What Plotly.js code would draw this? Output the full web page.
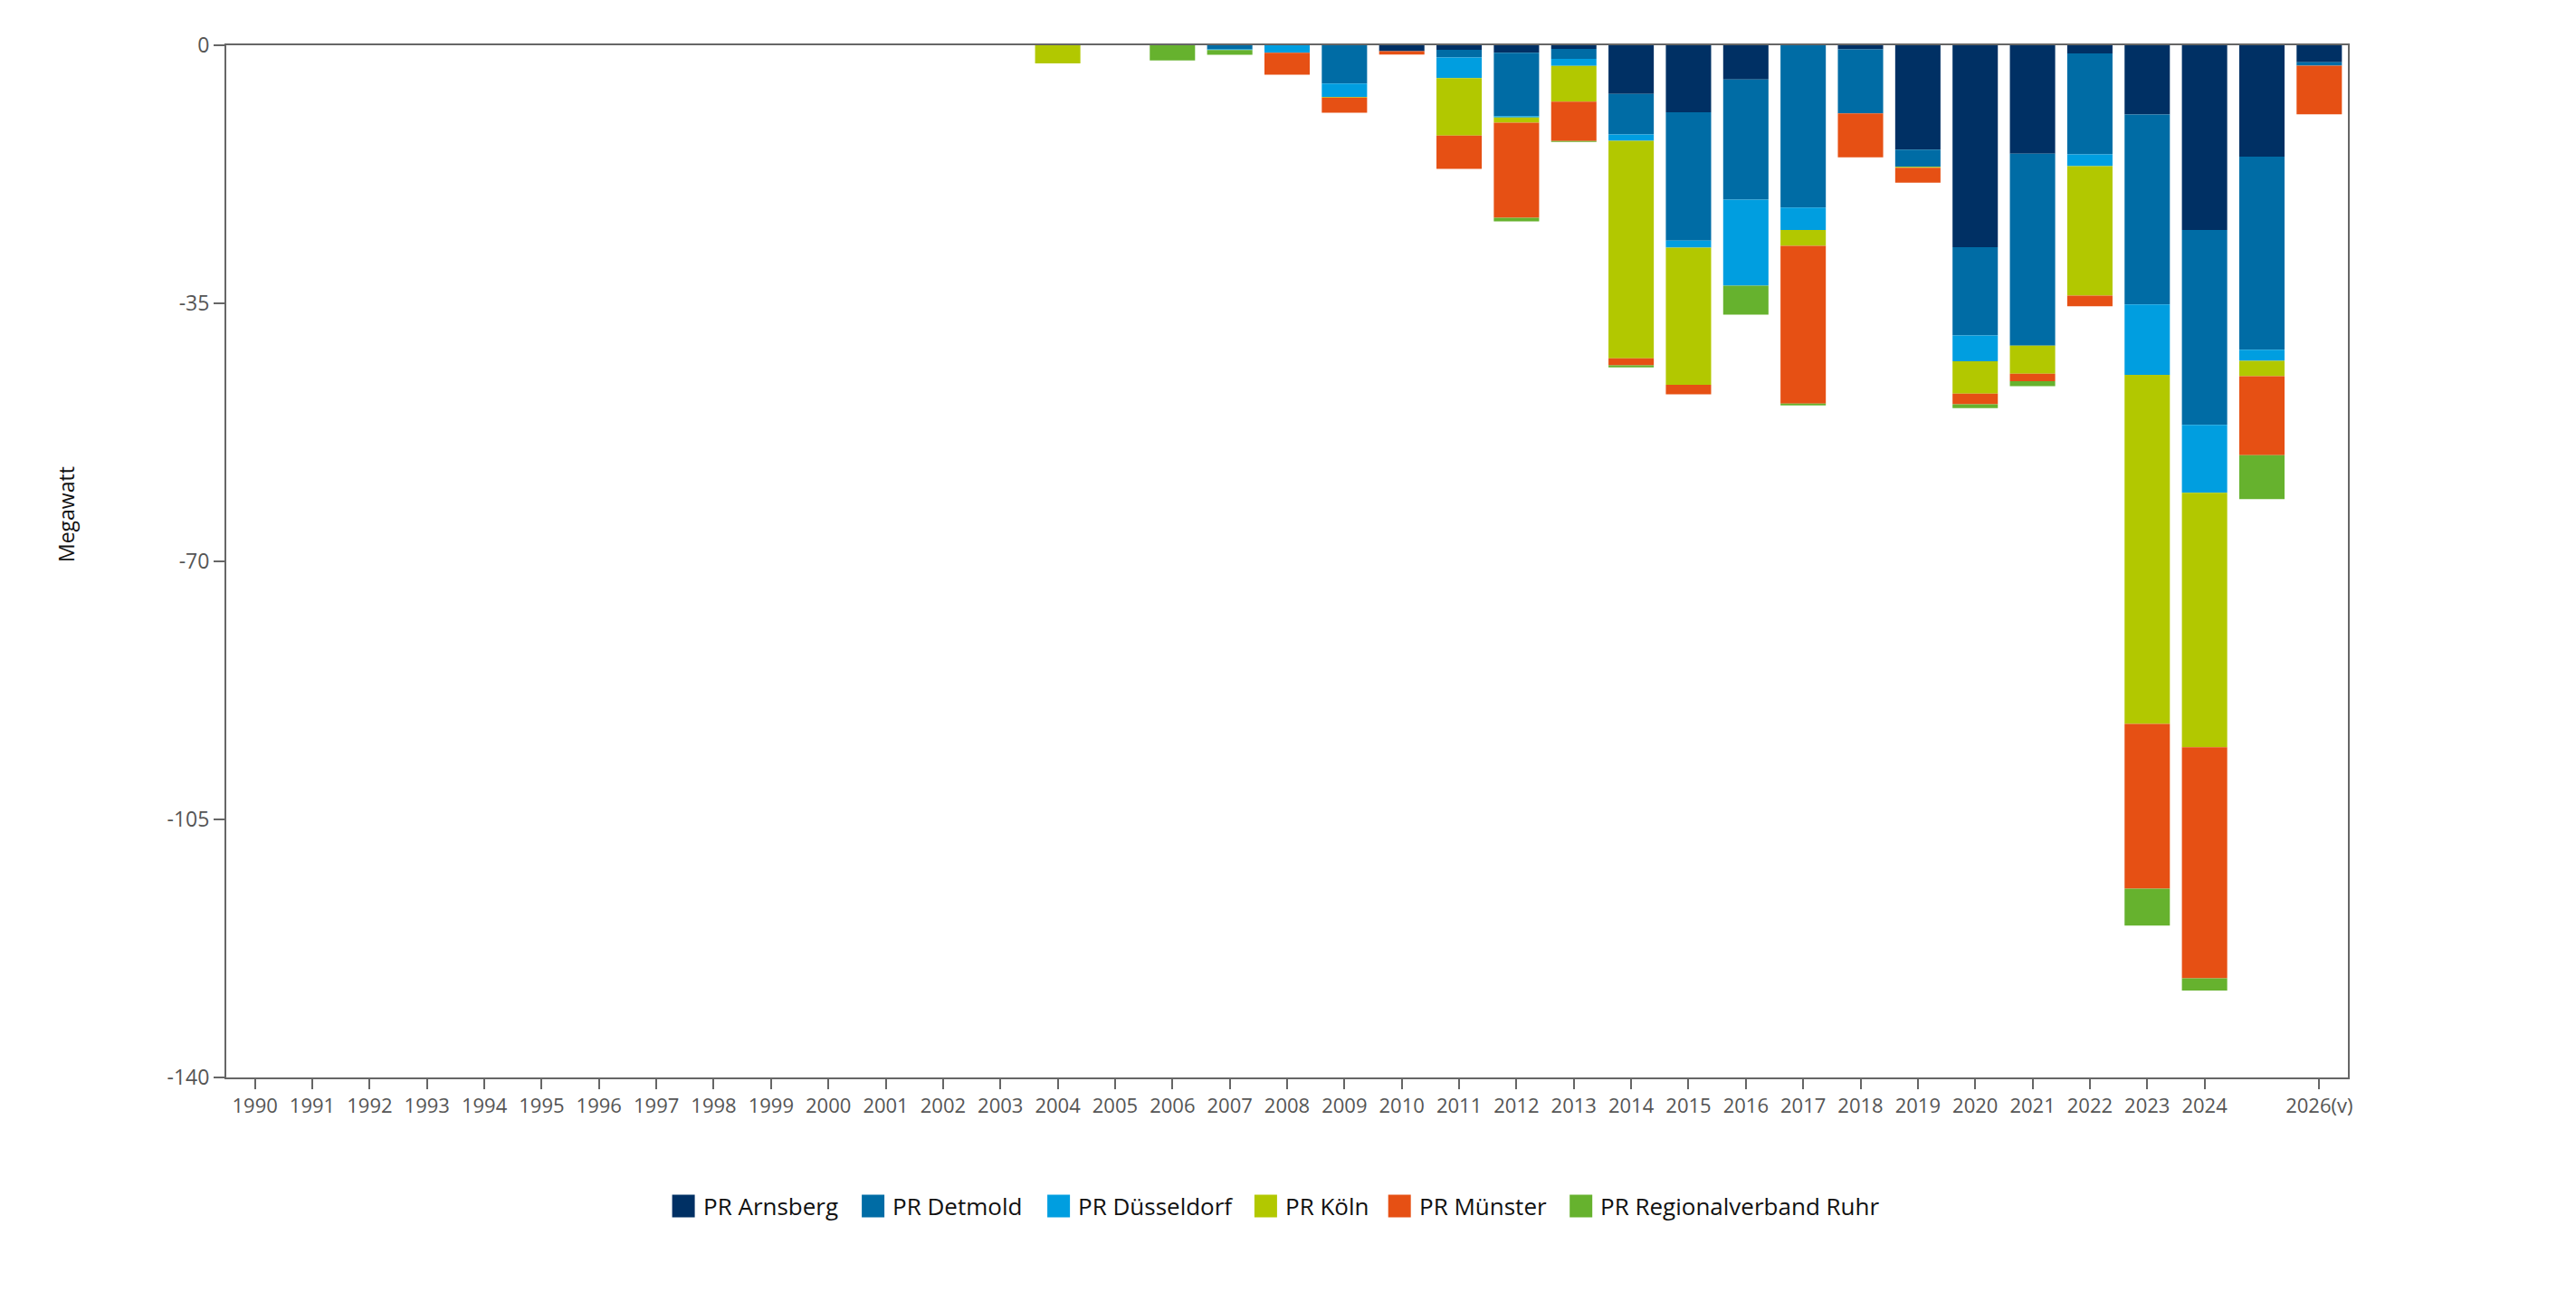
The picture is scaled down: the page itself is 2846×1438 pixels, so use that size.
<!DOCTYPE html>
<html>
<head>
<meta charset="utf-8">
<script src="https://cdn.plot.ly/plotly-3.0.1.min.js"></script>
<style>html,body{margin:0;padding:0;background:#fff;}#chart{width:2846px;height:1438px;}</style>
</head>
<body>
<div id="chart"></div>
<script>
const years = ["1990","1991","1992","1993","1994","1995","1996","1997","1998","1999","2000","2001","2002","2003","2004","2005","2006","2007","2008","2009","2010","2011","2012","2013","2014","2015","2016","2017","2018","2019","2020","2021","2022","2023","2024","2025","2026(v)"];
const tickLabels = ["1990","1991","1992","1993","1994","1995","1996","1997","1998","1999","2000","2001","2002","2003","2004","2005","2006","2007","2008","2009","2010","2011","2012","2013","2014","2015","2016","2017","2018","2019","2020","2021","2022","2023","2024","2026(v)"];

const arnsberg   = [0,0,0,0,0,0,0,0,0,0,0,0,0,0, 0,0,0,0,0,0,-0.8,-0.6,-1.0,-0.5,-6.6,-9.1,-4.65,0,-0.55,-14.15,-27.4,-14.7,-1.1,-9.4,-25.05,-15.1,-2.3];
const detmold    = [0,0,0,0,0,0,0,0,0,0,0,0,0,0, 0,0,0,-0.55,0,-5.2,0,-1.05,-8.6,-1.35,-5.5,-17.4,-16.3,-22.0,-8.7,-2.35,-11.95,-26.05,-13.7,-25.75,-26.45,-26.2,-0.45];
const duesseldorf= [0,0,0,0,0,0,0,0,0,0,0,0,0,0, 0,0,0,-0.1,-1.0,-1.8,0,-2.8,-0.2,-0.95,-0.85,-0.95,-11.65,-3.05,0,0,-3.5,0,-1.6,-9.55,-9.2,-1.5,0];
const koeln      = [0,0,0,0,0,0,0,0,0,0,0,0,0,0, -2.45,0,0,0,0,-0.1,0,-7.8,-0.7,-4.85,-29.5,-18.6,0,-2.15,0,-0.1,-4.4,-3.8,-17.55,-47.35,-34.5,-2.1,0];
const muenster   = [0,0,0,0,0,0,0,0,0,0,0,0,0,0, 0,0,0,0,-3.0,-2.05,-0.45,-4.5,-12.9,-5.35,-0.95,-1.3,0,-21.4,-5.95,-2.05,-1.45,-1.0,-1.45,-22.35,-31.35,-10.7,-6.6];
const ruhr       = [0,0,0,0,0,0,0,0,0,0,0,0,0,0, 0,0,-2.05,-0.65,0,0,0,0,-0.5,-0.1,-0.3,0,-3.95,-0.25,0,0,-0.5,-0.7,0,-5.0,-1.65,-5.95,0];

const seriesNames = ["PR Arnsberg","PR Detmold","PR Düsseldorf","PR Köln","PR Münster","PR Regionalverband Ruhr"];
const seriesValues = [arnsberg, detmold, duesseldorf, koeln, muenster, ruhr];
const seriesColors = ["#003064","#006ca5","#009ee0","#b2c800","#e65014","#66b22e"];

const yTickVals = [0,-35,-70,-105,-140];
const yTickText = ["0","-35","-70","-105","-140"];

const traces = seriesNames.map((n,i)=>({
  type:'bar', name:n, x:years, y:seriesValues[i],
  marker:{color:seriesColors[i], line:{width:0}},
  showlegend:false,
  hoverinfo:'x+y+name'
}));

// layout geometry (pixels)
const W = 2846, H = 1438, ML = 250, MR = 252, MT = 50, MB = 248;
const PW = W - ML - MR, PH = H - MT - MB;
const px2x = p => (p - ML) / PW;
const py2y = p => (H - MB - p) / PH;

// custom legend (large square swatches like the reference)
const legendLeft = [742.6, 952.1, 1157.1, 1385.9, 1533.7, 1734.2];
const legendY = 1332, sw = 25;
const font = "'Open Sans', 'Noto Sans', sans-serif";

const shapes = seriesNames.map((n,i)=>({
  type:'rect', xref:'paper', yref:'paper',
  x0:px2x(legendLeft[i]), x1:px2x(legendLeft[i]+sw),
  y0:py2y(legendY+sw/2), y1:py2y(legendY-sw/2),
  fillcolor:seriesColors[i], line:{width:0}
}));
const annotations = seriesNames.map((n,i)=>({
  text:n, xref:'paper', yref:'paper',
  x:px2x(legendLeft[i]+sw+7), y:py2y(legendY),
  xanchor:'left', yanchor:'middle', showarrow:false,
  font:{family:font, size:26, color:'#111'}
}));
annotations.push({text:'Megawatt', xref:'paper', yref:'paper', x:px2x(73), y:py2y(568),
  xanchor:'center', yanchor:'middle', textangle:-90, showarrow:false,
  font:{family:font, size:23, color:'#111'}});

const layout = {
  width:W, height:H,
  margin:{l:ML, r:MR, t:MT, b:MB},
  paper_bgcolor:'#fff', plot_bgcolor:'#fff',
  barmode:'relative', bargap:0.21,
  font:{family:font, color:'#555', size:22},
  showlegend:false,
  xaxis:{type:'category', categoryorder:'array', categoryarray:years,
         tickmode:'array', tickvals:tickLabels, ticktext:tickLabels,
         ticks:'outside', ticklen:11, tickwidth:2, tickcolor:'#666',
         showline:true, linecolor:'#666', linewidth:2, mirror:true,
         showgrid:false, zeroline:false,
         tickfont:{family:font, size:22, color:'#555'}, fixedrange:true},
  yaxis:{range:[-140,0], tickmode:'array', tickvals:yTickVals, ticktext:yTickText,
         ticks:'outside', ticklen:12, tickwidth:2, tickcolor:'#666',
         showline:true, linecolor:'#666', linewidth:2, mirror:true,
         showgrid:false, zeroline:false,
         tickfont:{family:font, size:23, color:'#555'}, fixedrange:true},
  shapes:shapes,
  annotations:annotations
};

Plotly.newPlot('chart', traces, layout, {displayModeBar:false, staticPlot:true});
</script>
</body>
</html>
